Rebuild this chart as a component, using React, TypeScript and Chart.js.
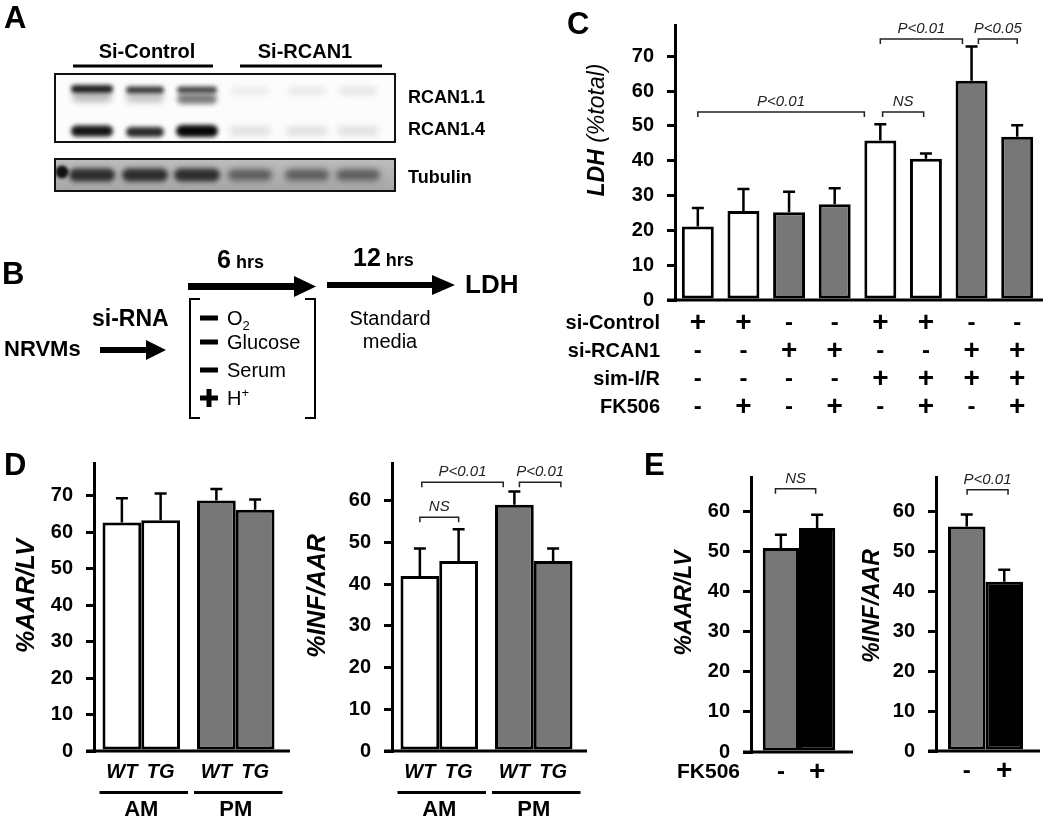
import React, { useEffect, useRef } from 'react';
import { Chart, registerables } from 'chart.js';

Chart.register(...registerables);

const FONT = '"Liberation Sans", Arial, Helvetica, sans-serif';
const WHITE = '#ffffff';
const GRAY = '#777777';
const BLACK = '#000000';

// ---------- Panel C data ----------
const cCategories = ['1', '2', '3', '4', '5', '6', '7', '8'];
const cValues = [21.1, 25.6, 25.2, 27.5, 45.8, 40.6, 63.0, 46.9];
const cErrors = [5.3, 6.3, 5.9, 4.6, 4.7, 1.5, 9.8, 3.3];
const cColors = [WHITE, WHITE, GRAY, GRAY, WHITE, WHITE, GRAY, GRAY];
const cRowNames = ['si-Control', 'si-RCAN1', 'sim-I/R', 'FK506'];
const cSiControl = ['+', '+', '-', '-', '+', '+', '-', '-'];
const cSiRcan = ['-', '-', '+', '+', '-', '-', '+', '+'];
const cSimIR = ['-', '-', '-', '-', '+', '+', '+', '+'];
const cFK506 = ['-', '+', '-', '+', '-', '+', '-', '+'];
const cYTicks = [0, 10, 20, 30, 40, 50, 60, 70];
const cBrackets = [
  { from: 0, to: 3.65, y: 54, label: 'P<0.01' },
  { from: 4.05, to: 4.95, y: 54, label: 'NS' },
  { from: 4, to: 5.8, y: 75, label: 'P<0.01' },
  { from: 6.15, to: 7, y: 75, label: 'P<0.05' },
];

// ---------- Panel D data ----------
const dGroups = ['AM', 'PM'];
const dGroupColors = [WHITE, GRAY];
const dAarWT = [62.7, 68.7];
const dAarWTErr = [6.6, 3.2];
const dAarTG = [63.3, 66.2];
const dAarTGErr = [7.3, 2.8];
const dInfWT = [41.9, 59.0];
const dInfWTErr = [6.6, 3.2];
const dInfTG = [45.5, 45.5];
const dInfTGErr = [7.6, 3.0];
const dAarTicks = [0, 10, 20, 30, 40, 50, 60, 70];
const dInfTicks = [0, 10, 20, 30, 40, 50, 60];
const dInfBrackets = [
  { from: 0, to: 1, y: 56, label: 'NS' },
  { from: 0.05, to: 1.8, y: 64.4, label: 'P<0.01' },
  { from: 2.13, to: 3.2, y: 64.4, label: 'P<0.01' },
];

// ---------- Panel E data ----------
const eTreatments = ['-', '+'];
const eColors = [GRAY, BLACK];
const eAar = [50.9, 55.9];
const eAarErr = [3.3, 3.3];
const eInf = [56.2, 42.4];
const eInfErr = [3.0, 3.0];
const eTicks = [0, 10, 20, 30, 40, 50, 60];
const eAarBrackets = [{ from: -0.15, to: 0.96, y: 65.7, label: 'NS' }];
const eInfBrackets = [{ from: 0.01, to: 1.1, y: 65.4, label: 'P<0.01' }];

// ---------- helpers ----------
function orderedElements(chart: any) {
  const res: any[] = [];
  const n = chart.data.labels.length;
  for (let i = 0; i < n; i++) {
    for (let d = 0; d < chart.data.datasets.length; d++) {
      res.push(chart.getDatasetMeta(d).data[i]);
    }
  }
  return res;
}

function xAt(els: any[], f: number) {
  if (els.length === 1) return els[0].x;
  const i = Math.max(0, Math.min(els.length - 2, Math.floor(f)));
  return els[i].x + (f - i) * (els[i + 1].x - els[i].x);
}

function extrasPlugin(s: any) {
  return {
    id: 'extras',
    afterDatasetsDraw(chart: any) {
      const ctx = chart.ctx;
      const a = chart.chartArea;
      const y = chart.scales.y;
      const els = orderedElements(chart);
      ctx.save();
      // baseline
      const y0 = y.getPixelForValue(0);
      ctx.strokeStyle = BLACK;
      ctx.lineWidth = 3;
      ctx.beginPath();
      ctx.moveTo(a.left - 8, y0);
      ctx.lineTo(a.right + s.extRight, y0);
      ctx.stroke();
      // error bars
      ctx.lineWidth = 2.5;
      chart.data.datasets.forEach((ds: any, di: number) => {
        chart.getDatasetMeta(di).data.forEach((el: any, i: number) => {
          const yt = y.getPixelForValue(ds.data[i] + ds.errors[i]);
          ctx.beginPath();
          ctx.moveTo(el.x, el.y);
          ctx.lineTo(el.x, yt);
          ctx.moveTo(el.x - 6, yt);
          ctx.lineTo(el.x + 6, yt);
          ctx.stroke();
        });
      });
      // brackets
      ctx.lineWidth = 1.5;
      ctx.strokeStyle = '#222';
      ctx.fillStyle = '#222';
      ctx.font = `italic 15px ${FONT}`;
      ctx.textAlign = 'center';
      ctx.textBaseline = 'alphabetic';
      s.brackets.forEach((b: any) => {
        const x1 = xAt(els, b.from);
        const x2 = xAt(els, b.to);
        const yy = y.getPixelForValue(b.y);
        ctx.beginPath();
        ctx.moveTo(x1, yy + 5);
        ctx.lineTo(x1, yy);
        ctx.lineTo(x2, yy);
        ctx.lineTo(x2, yy + 5);
        ctx.stroke();
        ctx.fillText(b.label, (x1 + x2) / 2, yy - 6);
      });
      // y title
      const t = s.title;
      ctx.save();
      ctx.translate(t.x, t.y);
      ctx.rotate(-Math.PI / 2);
      ctx.fillStyle = BLACK;
      ctx.textAlign = 'left';
      ctx.textBaseline = 'middle';
      let total = 0;
      t.parts.forEach((p: any) => {
        ctx.font = p.font;
        total += ctx.measureText(p.text).width;
      });
      let xx = -total / 2;
      t.parts.forEach((p: any) => {
        ctx.font = p.font;
        ctx.fillText(p.text, xx, 0);
        xx += ctx.measureText(p.text).width;
      });
      ctx.restore();
      // under-axis labels
      ctx.fillStyle = BLACK;
      ctx.strokeStyle = BLACK;
      s.under(chart, ctx, els);
      ctx.restore();
    },
  };
}

function buildConfig(s: any): any {
  return {
    type: 'bar',
    data: {
      labels: s.labels,
      datasets: s.datasets.map((d: any) => ({
        label: d.label,
        data: d.data,
        errors: d.errors,
        backgroundColor: d.colors,
        borderColor: BLACK,
        borderWidth: 3,
        borderSkipped: false,
        barPercentage: s.barPct,
        categoryPercentage: s.catPct,
      })),
    },
    options: {
      responsive: false,
      maintainAspectRatio: false,
      animation: false,
      devicePixelRatio: 1,
      events: [],
      layout: { padding: { left: 0, right: s.width - s.area.r, top: s.area.t, bottom: 0 } },
      plugins: { legend: { display: false }, tooltip: { enabled: false }, title: { display: false } },
      scales: {
        x: {
          type: 'category',
          offset: true,
          grid: { display: false },
          border: { display: false },
          ticks: { display: false },
          afterFit: (sc: any) => {
            sc.height = s.height - s.area.b;
          },
        },
        y: {
          type: 'linear',
          min: 0,
          max: s.yMax,
          afterBuildTicks: (sc: any) => {
            sc.ticks = s.yTicks.map((v: number) => ({ value: v }));
          },
          afterFit: (sc: any) => {
            sc.width = s.area.l;
          },
          border: { display: true, color: BLACK, width: 3 },
          grid: { display: true, drawOnChartArea: false, drawTicks: true, tickLength: 8, lineWidth: 3, color: BLACK },
          ticks: { color: BLACK, padding: 13, font: { family: FONT, size: 20, weight: 'bold' } },
        },
      },
    },
    plugins: [extrasPlugin(s)],
  };
}

function underC(chart: any, ctx: any, els: any[]) {
  const a = chart.chartArea;
  const rows = [cSiControl, cSiRcan, cSimIR, cFK506];
  rows.forEach((row, r) => {
    const yy = a.bottom + 23 + r * 28;
    ctx.font = `bold 20px ${FONT}`;
    ctx.textAlign = 'right';
    ctx.textBaseline = 'middle';
    ctx.fillText(cRowNames[r], a.left - 15, yy);
    row.forEach((sign, i) => {
      ctx.font = sign === '+' ? `bold 28px ${FONT}` : `bold 24px ${FONT}`;
      ctx.textAlign = 'center';
      ctx.fillText(sign, els[i].x, yy);
    });
  });
}

function underD(chart: any, ctx: any) {
  const a = chart.chartArea;
  ctx.textAlign = 'center';
  ctx.textBaseline = 'middle';
  chart.data.datasets.forEach((ds: any, di: number) => {
    chart.getDatasetMeta(di).data.forEach((el: any) => {
      ctx.font = `italic bold 20px ${FONT}`;
      ctx.fillText(ds.label, el.x, a.bottom + 21);
    });
  });
  chart.data.labels.forEach((lab: string, i: number) => {
    const group = chart.data.datasets.map((_: any, di: number) => chart.getDatasetMeta(di).data[i]);
    const l = Math.min(...group.map((e: any) => e.x - e.width / 2));
    const r = Math.max(...group.map((e: any) => e.x + e.width / 2));
    ctx.fillRect(l - 3, a.bottom + 40, r - l + 11, 3);
    ctx.font = `bold 22px ${FONT}`;
    ctx.fillText(lab, (l + r) / 2, a.bottom + 59);
  });
}

function makeUnderE(rowName: string | null) {
  return (chart: any, ctx: any, els: any[]) => {
    const a = chart.chartArea;
    const yy = a.bottom + 20;
    ctx.textBaseline = 'middle';
    if (rowName) {
      ctx.font = `bold 21px ${FONT}`;
      ctx.textAlign = 'right';
      ctx.fillText(rowName, a.left - 11, yy);
    }
    chart.data.datasets.forEach((ds: any, di: number) => {
      const el = chart.getDatasetMeta(di).data[0];
      ctx.font = ds.label === '+' ? `bold 28px ${FONT}` : `bold 24px ${FONT}`;
      ctx.textAlign = 'center';
      ctx.fillText(ds.label, el.x, yy);
    });
  };
}

const specC = {
  left: 560, top: 0, width: 490, height: 420,
  area: { l: 115, r: 480, t: 13, b: 300 },
  yMax: 79, yTicks: cYTicks, extRight: 3,
  labels: cCategories,
  datasets: [{ label: 'LDH', data: cValues, errors: cErrors, colors: cColors }],
  catPct: 1, barPct: 0.7,
  brackets: cBrackets,
  title: { x: 38, y: 130, parts: [{ text: 'LDH ', font: `italic bold 23px ${FONT}` }, { text: '(%total)', font: `italic 23px ${FONT}` }] },
  under: underC,
};

const specDL = {
  left: 0, top: 420, width: 295, height: 402,
  area: { l: 94, r: 283, t: 43, b: 331 },
  yMax: 79, yTicks: dAarTicks, extRight: 7,
  labels: dGroups,
  datasets: [
    { label: 'WT', data: dAarWT, errors: dAarWTErr, colors: dGroupColors },
    { label: 'TG', data: dAarTG, errors: dAarTGErr, colors: dGroupColors },
  ],
  catPct: 0.82, barPct: 1,
  brackets: [],
  title: { x: 27.5, y: 176, parts: [{ text: '%AAR/LV', font: `italic bold 25px ${FONT}` }] },
  under: underD,
};

const specDR = {
  left: 295, top: 420, width: 345, height: 402,
  area: { l: 97, r: 286, t: 43, b: 331 },
  yMax: 69, yTicks: dInfTicks, extRight: 6,
  labels: dGroups,
  datasets: [
    { label: 'WT', data: dInfWT, errors: dInfWTErr, colors: dGroupColors },
    { label: 'TG', data: dInfTG, errors: dInfTGErr, colors: dGroupColors },
  ],
  catPct: 0.82, barPct: 1,
  brackets: dInfBrackets,
  title: { x: 23, y: 176, parts: [{ text: '%INF/AAR', font: `italic bold 25px ${FONT}` }] },
  under: underD,
};

const specEL = {
  left: 640, top: 420, width: 215, height: 402,
  area: { l: 111, r: 207, t: 57, b: 332 },
  yMax: 68.6, yTicks: eTicks, extRight: 6,
  labels: ['FK506'],
  datasets: eTreatments.map((t, i) => ({ label: t, data: [eAar[i]], errors: [eAarErr[i]], colors: [eColors[i]] })),
  catPct: 0.755, barPct: 1,
  brackets: eAarBrackets,
  title: { x: 45, y: 183, parts: [{ text: '%AAR/LV', font: `italic bold 23px ${FONT}` }] },
  under: makeUnderE('FK506'),
};

const specER = {
  left: 855, top: 420, width: 195, height: 402,
  area: { l: 81, r: 180, t: 57, b: 331 },
  yMax: 68.6, yTicks: eTicks, extRight: 5,
  labels: ['FK506'],
  datasets: eTreatments.map((t, i) => ({ label: t, data: [eInf[i]], errors: [eInfErr[i]], colors: [eColors[i]] })),
  catPct: 0.758, barPct: 1,
  brackets: eInfBrackets,
  title: { x: 18, y: 186, parts: [{ text: '%INF/AAR', font: `italic bold 23px ${FONT}` }] },
  under: makeUnderE(null),
};

function BarPanel({ spec }: { spec: any }) {
  const ref = useRef<HTMLCanvasElement>(null);
  useEffect(() => {
    const chart = new Chart(ref.current as HTMLCanvasElement, buildConfig(spec));
    return () => chart.destroy();
  }, [spec]);
  return (
    <canvas
      ref={ref}
      width={spec.width}
      height={spec.height}
      style={{ position: 'absolute', left: spec.left, top: spec.top, width: spec.width, height: spec.height }}
    />
  );
}

function Blot() {
  const ref = useRef<HTMLCanvasElement>(null);
  useEffect(() => {
    const c = ref.current as HTMLCanvasElement;
    const ctx = c.getContext('2d') as CanvasRenderingContext2D;
    const ox = 50;
    const oy = 70;
    ctx.clearRect(0, 0, c.width, c.height);
    const band = (cx: number, cy: number, w: number, h: number, color: string, blur: number) => {
      ctx.filter = `blur(${blur}px)`;
      ctx.fillStyle = color;
      ctx.beginPath();
      (ctx as any).roundRect(cx - w / 2 - ox, cy - h / 2 - oy, w, h, h / 2);
      ctx.fill();
      ctx.filter = 'none';
    };
    // upper blot
    ctx.fillStyle = '#fcfcfc';
    ctx.fillRect(55 - ox, 74 - oy, 340, 68);
    ctx.save();
    ctx.beginPath();
    ctx.rect(55 - ox, 74 - oy, 340, 68);
    ctx.clip();
    band(92, 97, 40, 10, 'rgba(0,0,0,0.25)', 3);
    band(145, 98, 38, 9, 'rgba(0,0,0,0.22)', 3);
    band(197, 99, 40, 10, 'rgba(0,0,0,0.5)', 2.5);
    band(92, 89, 42, 8, '#1e1e1e', 2);
    band(145, 90, 38, 7, '#363636', 2);
    band(197, 90, 40, 7, '#454545', 2);
    band(92, 131, 42, 11, '#151515', 2.2);
    band(145, 132, 38, 10, '#2c2c2c', 2.2);
    band(197, 131, 42, 12, '#080808', 2.2);
    [250, 307, 358].forEach((x, i) => {
      band(x, 91, 38, 7, `rgba(0,0,0,${0.08 + i * 0.01})`, 3);
      band(x, 131, 42, 9, 'rgba(0,0,0,0.11)', 3);
    });
    ctx.restore();
    ctx.strokeStyle = '#111';
    ctx.lineWidth = 2;
    ctx.strokeRect(55 - ox, 74 - oy, 340, 68);
    // tubulin
    const g = ctx.createLinearGradient(0, 159 - oy, 0, 191 - oy);
    g.addColorStop(0, '#bdbdbd');
    g.addColorStop(1, '#a6a6a6');
    ctx.fillStyle = g;
    ctx.fillRect(55 - ox, 159 - oy, 340, 32);
    ctx.save();
    ctx.beginPath();
    ctx.rect(55 - ox, 159 - oy, 340, 32);
    ctx.clip();
    [92, 145, 197].forEach((x) => band(x, 175, 46, 13, '#2e2e2e', 2.5));
    [250, 307, 358].forEach((x) => band(x, 175, 44, 11, '#5a5a5a', 3));
    band(62, 172, 13, 13, '#111', 1.5);
    ctx.restore();
    ctx.strokeStyle = '#111';
    ctx.lineWidth = 2;
    ctx.strokeRect(55 - ox, 159 - oy, 340, 32);
  }, []);
  return <canvas ref={ref} width={350} height={130} style={{ position: 'absolute', left: 50, top: 70 }} />;
}

function Overlay() {
  return (
    <svg
      width={1050}
      height={822}
      style={{ position: 'absolute', left: 0, top: 0, pointerEvents: 'none' }}
      fontFamily={FONT}
    >
      {/* panel letters */}
      <g fontSize={31} fontWeight="bold" fill="#000">
        <text x={4} y={28}>A</text>
        <text x={2} y={284}>B</text>
        <text x={567} y={34}>C</text>
        <text x={4} y={475}>D</text>
        <text x={644} y={475}>E</text>
      </g>
      {/* panel A labels */}
      <g fontWeight="bold" fill="#000">
        <text x={147} y={58} fontSize={20} textAnchor="middle">Si-Control</text>
        <rect x={73} y={64.5} width={140} height={3} />
        <text x={305} y={58} fontSize={20} textAnchor="middle">Si-RCAN1</text>
        <rect x={240} y={64.5} width={142} height={3} />
        <text x={408} y={103} fontSize={18}>RCAN1.1</text>
        <text x={408} y={135} fontSize={18}>RCAN1.4</text>
        <text x={408} y={183} fontSize={18}>Tubulin</text>
      </g>
      {/* panel B diagram */}
      <g fill="#000">
        <text x={4} y={356} fontSize={22} fontWeight="bold">NRVMs</text>
        <rect x={100} y={347} width={48} height={6} />
        <polygon points="146,340 166,350 146,360" />
        <text x={92} y={326} fontSize={23} fontWeight="bold">si-RNA</text>
        <path d="M200,299 H190 V418 H200" stroke="#000" strokeWidth={2} fill="none" />
        <path d="M305,299 H315 V418 H305" stroke="#000" strokeWidth={2} fill="none" />
        <rect x={200} y={315.5} width={18} height={5} />
        <rect x={200} y={339.5} width={18} height={5} />
        <rect x={200} y={367.5} width={18} height={5} />
        <rect x={200} y={395.5} width={18} height={5} />
        <rect x={206.5} y={389} width={5} height={18} />
        <text x={227} y={325} fontSize={20}>
          O<tspan fontSize={13} dy={5}>2</tspan>
        </text>
        <text x={227} y={349} fontSize={20}>Glucose</text>
        <text x={227} y={377} fontSize={20}>Serum</text>
        <text x={227} y={405} fontSize={20}>
          H<tspan fontSize={13} dy={-8}>+</tspan>
        </text>
        <rect x={188} y={283} width={108} height={7} />
        <polygon points="294,276 316,286.5 294,297" />
        <text x={217} y={268} fontWeight="bold">
          <tspan fontSize={25}>6</tspan>
          <tspan fontSize={18}> hrs</tspan>
        </text>
        <rect x={327} y={282} width={108} height={6} />
        <polygon points="432,275 455,285 432,295" />
        <text x={353} y={266} fontWeight="bold">
          <tspan fontSize={25}>12</tspan>
          <tspan fontSize={18}> hrs</tspan>
        </text>
        <text x={390} y={325} fontSize={20} textAnchor="middle">Standard</text>
        <text x={390} y={348} fontSize={20} textAnchor="middle">media</text>
        <text x={465} y={293} fontSize={26} fontWeight="bold">LDH</text>
      </g>
    </svg>
  );
}

export default function App() {
  return (
    <div style={{ position: 'absolute', left: 0, top: 0, width: 1050, height: 822, background: '#fff', overflow: 'hidden' }}>
      <Blot />
      <BarPanel spec={specC} />
      <BarPanel spec={specDL} />
      <BarPanel spec={specDR} />
      <BarPanel spec={specEL} />
      <BarPanel spec={specER} />
      <Overlay />
    </div>
  );
}
